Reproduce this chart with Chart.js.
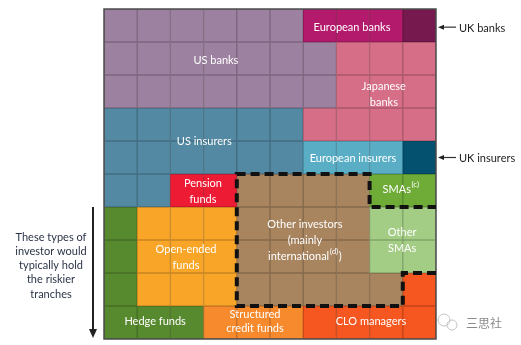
<!DOCTYPE html>
<html>
<head>
<meta charset="utf-8">
<script src="https://cdn.jsdelivr.net/npm/chart.js@4/dist/chart.umd.min.js"></script>
<style>
  html, body { margin: 0; padding: 0; background: #fff; }
  #wrap { width: 521px; height: 345px; position: relative; }
</style>
</head>
<body>
<div id="wrap"><canvas id="c" width="521" height="345"></canvas></div>
<script>
// Investor types and how many of the 100 squares (percentage points) each holds
const investorTypes = [
  'US banks', 'European banks', 'UK banks', 'Japanese banks',
  'US insurers', 'European insurers', 'UK insurers', 'Pension funds',
  'Other investors', 'SMAs', 'Other SMAs', 'Hedge funds',
  'Open-ended funds', 'Structured credit funds', 'CLO managers'
];
const holdingShares = [20, 3, 1, 10, 14, 3, 1, 2, 17, 2, 4, 6, 9, 3, 5];

// Ten columns of the waffle
const gridColumns = ['1', '2', '3', '4', '5', '6', '7', '8', '9', '10'];

// Owner (index into investorTypes) of each square, top row first
const gridRows = [
  [0, 0, 0, 0, 0, 0, 1, 1, 1, 2],
  [0, 0, 0, 0, 0, 0, 0, 3, 3, 3],
  [0, 0, 0, 0, 0, 0, 0, 3, 3, 3],
  [4, 4, 4, 4, 4, 4, 3, 3, 3, 3],
  [4, 4, 4, 4, 4, 4, 5, 5, 5, 6],
  [4, 4, 7, 7, 8, 8, 8, 8, 9, 9],
  [11, 12, 12, 12, 8, 8, 8, 8, 10, 10],
  [11, 12, 12, 12, 8, 8, 8, 8, 10, 10],
  [11, 12, 12, 12, 8, 8, 8, 8, 8, 14],
  [11, 11, 11, 13, 13, 13, 14, 14, 14, 14]
];

// Fill colour of each investor type
const typeColors = [
  '#9d81a0', '#b41a6c', '#76194f', '#d56e86',
  '#5489a3', '#59aec5', '#03506f', '#ee1b34',
  '#a8845f', '#6eac37', '#a3cd85', '#57892e',
  '#f9a628', '#f68a2d', '#f6561f'
];

function darken(hex, f) {
  const n = parseInt(hex.slice(1), 16);
  const r = Math.round(((n >> 16) & 255) * f);
  const g = Math.round(((n >> 8) & 255) * f);
  const b = Math.round((n & 255) * f);
  return 'rgb(' + r + ',' + g + ',' + b + ')';
}

// Label anchors in grid units (column, row from the top)
const labelSpots = [
  { type: 1, lines: ['European banks'], col: 7.47, row: 0.55 },
  { type: 0, lines: ['US banks'], col: 3.37, row: 1.55 },
  { type: 3, lines: ['Japanese', 'banks'], col: 8.43, row: 2.58 },
  { type: 4, lines: ['US insurers'], col: 3.02, row: 4.0 },
  { type: 5, lines: ['European insurers'], col: 7.5, row: 4.52 },
  { type: 7, lines: ['Pension', 'funds'], col: 2.98, row: 5.52 },
  { type: 8, lines: ['Other investors', '(mainly', ['international', '(d)', ')']], col: 6.05, row: 7.0 },
  { type: 9, lines: [['SMAs', '(c)', '']], col: 8.95, row: 5.46 },
  { type: 10, lines: ['Other', 'SMAs'], col: 8.98, row: 7.0 },
  { type: 12, lines: ['Open-ended', 'funds'], col: 2.47, row: 7.52 },
  { type: 11, lines: ['Hedge funds'], col: 1.54, row: 9.48 },
  { type: 13, lines: ['Structured', 'credit funds'], col: 4.55, row: 9.46, lh: 14 },
  { type: 14, lines: ['CLO managers'], col: 8.04, row: 9.48 }
];

const FONT = 'Lato, "Open Sans", sans-serif';

const datasets = gridRows.map((row, r) => ({
  label: 'row ' + (r + 1),
  data: gridColumns.map(() => 1),
  backgroundColor: row.map(t => typeColors[t]),
  borderColor: row.map(t => darken(typeColors[t], 0.8)),
  borderWidth: 1,
  borderSkipped: false,
  barPercentage: 1,
  categoryPercentage: 1
}));

// Text, outline, dashed group boundary and side notes
const overlay = {
  id: 'overlay',
  afterDatasetsDraw(chart) {
    const { ctx, chartArea: a, scales } = chart;
    const px = c => scales.x.getPixelForDecimal(c / gridColumns.length);
    const py = r => scales.y.getPixelForValue(r);

    ctx.save();
    // outer frame
    ctx.strokeStyle = '#4d4d4d';
    ctx.lineWidth = 1.5;
    ctx.strokeRect(a.left, a.top, a.right - a.left, a.bottom - a.top);

    // dashed boundary round the international group
    ctx.strokeStyle = '#111';
    ctx.lineWidth = 4;
    ctx.setLineDash([9, 5]);
    ctx.beginPath();
    ctx.moveTo(px(10), py(8));
    ctx.lineTo(px(9), py(8));
    ctx.lineTo(px(9), py(9));
    ctx.lineTo(px(4), py(9));
    ctx.lineTo(px(4), py(5));
    ctx.lineTo(px(8), py(5));
    ctx.lineTo(px(8), py(6));
    ctx.lineTo(px(10), py(6));
    ctx.stroke();
    ctx.setLineDash([]);

    // labels inside the squares
    ctx.fillStyle = '#fff';
    ctx.textBaseline = 'middle';
    const base = '11px ' + FONT;
    const sup = '8px ' + FONT;
    labelSpots.forEach(s => {
      const lh = s.lh || 16;
      const cx = px(s.col);
      const cy = py(s.row);
      const n = s.lines.length;
      s.lines.forEach((ln, i) => {
        const y = cy + (i - (n - 1) / 2) * lh;
        if (typeof ln === 'string') {
          ctx.font = base;
          ctx.textAlign = 'center';
          ctx.fillText(ln, cx, y);
        } else {
          ctx.font = base;
          const w1 = ctx.measureText(ln[0]).width;
          const w3 = ctx.measureText(ln[2]).width;
          ctx.font = sup;
          const w2 = ctx.measureText(ln[1]).width;
          let x = cx - (w1 + w2 + w3 + 1) / 2;
          ctx.textAlign = 'left';
          ctx.font = base;
          ctx.fillText(ln[0], x, y);
          x += w1 + 0.5;
          ctx.font = sup;
          ctx.fillText(ln[1], x, y - 5);
          x += w2 + 0.5;
          ctx.font = base;
          ctx.fillText(ln[2], x, y);
        }
      });
    });

    // notes to the right of the grid
    ctx.fillStyle = '#222';
    ctx.strokeStyle = '#333';
    ctx.lineWidth = 1.2;
    ctx.font = '11px ' + FONT;
    ctx.textAlign = 'left';
    [['UK banks', 0.55], ['UK insurers', 4.5]].forEach(([t, r]) => {
      const y = py(r);
      const x0 = a.right + 2;
      ctx.beginPath();
      ctx.moveTo(x0 + 18, y);
      ctx.lineTo(x0 + 4, y);
      ctx.stroke();
      ctx.beginPath();
      ctx.moveTo(x0, y);
      ctx.lineTo(x0 + 6, y - 2.5);
      ctx.lineTo(x0 + 6, y + 2.5);
      ctx.closePath();
      ctx.fill();
      ctx.fillText(t, x0 + 21, y + 1);
    });

    // downward arrow and note on the left
    const ax = a.left - 11;
    ctx.strokeStyle = '#222';
    ctx.lineWidth = 2;
    ctx.beginPath();
    ctx.moveTo(ax, py(6));
    ctx.lineTo(ax, a.bottom - 8);
    ctx.stroke();
    ctx.beginPath();
    ctx.moveTo(ax - 4, a.bottom - 10);
    ctx.lineTo(ax + 4, a.bottom - 10);
    ctx.lineTo(ax, a.bottom - 1);
    ctx.closePath();
    ctx.fill();

    ctx.fillStyle = '#2b3447';
    ctx.textAlign = 'center';
    ctx.font = '11px ' + FONT;
    ['These types of', 'investor would', 'typically hold', 'the riskier', 'tranches']
      .forEach((t, i) => ctx.fillText(t, 51, 237 + i * 14.3));

    // small mark and name at the lower right
    ctx.strokeStyle = '#c4c4c4';
    ctx.lineWidth = 1;
    ctx.beginPath();
    ctx.arc(444, 320, 6, 0, Math.PI * 2);
    ctx.stroke();
    ctx.beginPath();
    ctx.arc(452, 325, 5, 0, Math.PI * 2);
    ctx.stroke();
    ctx.fillStyle = '#8a8a8a';
    ctx.textAlign = 'left';
    ctx.font = '12px "Noto Sans CJK SC", sans-serif';
    ctx.fillText('三思社', 466, 323);
    ctx.restore();
  }
};

new Chart(document.getElementById('c'), {
  type: 'bar',
  data: { labels: gridColumns, datasets },
  options: {
    responsive: false,
    animation: false,
    events: [],
    layout: { padding: { left: 104, right: 85, top: 9, bottom: 6 } },
    plugins: { legend: { display: false }, tooltip: { enabled: false } },
    scales: {
      x: { stacked: true, display: false },
      y: { stacked: true, display: false, reverse: true, min: 0, max: 10 }
    }
  },
  plugins: [overlay]
});
</script>
</body>
</html>
